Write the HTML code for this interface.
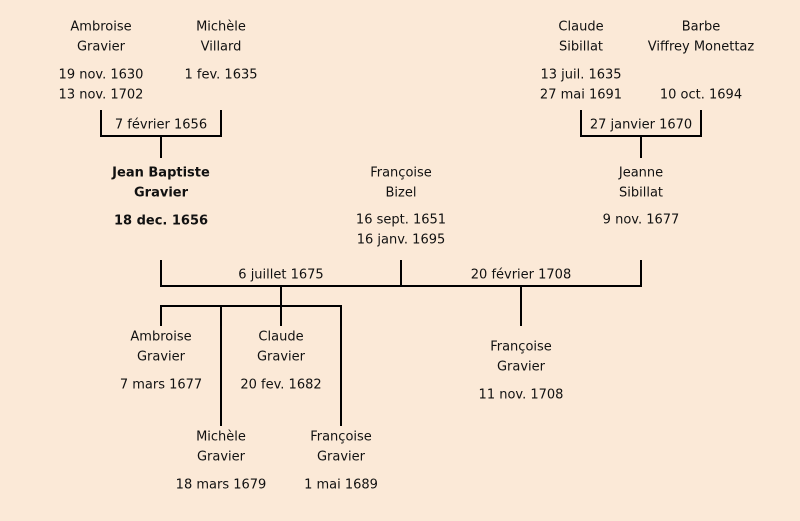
<!DOCTYPE html>
<html><head><meta charset="utf-8"><style>
body{margin:0;width:800px;height:521px;background:#fbe9d7;position:relative;overflow:hidden;font-family:"DejaVu Sans","Liberation Sans",sans-serif;font-size:13px;color:#111}
.t{position:absolute;transform:translate(-50%,-50%);white-space:nowrap;line-height:1}
.b{font-weight:bold}
svg{position:absolute;left:0;top:0}
</style></head><body>
<svg width="800" height="521"><g stroke="#000" stroke-width="2" fill="none">
<path d="M101 110V136H221V110M161 136V158"/>
<path d="M581 110V136H701V110M641 136V158"/>
<path d="M161 260V286H641V260M401 260V286"/>
<path d="M281 286V306M161 326V306H341V426M221 306V426M281 306V326"/>
<path d="M521 286V326"/>
</g></svg>
<div class="t" style="left:101px;top:27px">Ambroise</div>
<div class="t" style="left:101px;top:47px">Gravier</div>
<div class="t" style="left:101px;top:75px">19 nov. 1630</div>
<div class="t" style="left:101px;top:95px">13 nov. 1702</div>
<div class="t" style="left:221px;top:27px">Michèle</div>
<div class="t" style="left:221px;top:47px">Villard</div>
<div class="t" style="left:221px;top:75px">1 fev. 1635</div>
<div class="t" style="left:161px;top:125px">7 février 1656</div>
<div class="t" style="left:581px;top:27px">Claude</div>
<div class="t" style="left:581px;top:47px">Sibillat</div>
<div class="t" style="left:581px;top:75px">13 juil. 1635</div>
<div class="t" style="left:581px;top:95px">27 mai 1691</div>
<div class="t" style="left:701px;top:27px">Barbe</div>
<div class="t" style="left:701px;top:47px">Viffrey Monettaz</div>
<div class="t" style="left:701px;top:95px">10 oct. 1694</div>
<div class="t" style="left:641px;top:125px">27 janvier 1670</div>
<div class="t b" style="left:161px;top:173px">Jean Baptiste</div>
<div class="t b" style="left:161px;top:193px">Gravier</div>
<div class="t b" style="left:161px;top:221px">18 dec. 1656</div>
<div class="t" style="left:401px;top:173px">Françoise</div>
<div class="t" style="left:401px;top:193px">Bizel</div>
<div class="t" style="left:401px;top:220px">16 sept. 1651</div>
<div class="t" style="left:401px;top:240px">16 janv. 1695</div>
<div class="t" style="left:641px;top:173px">Jeanne</div>
<div class="t" style="left:641px;top:193px">Sibillat</div>
<div class="t" style="left:641px;top:220px">9 nov. 1677</div>
<div class="t" style="left:281px;top:275px">6 juillet 1675</div>
<div class="t" style="left:521px;top:275px">20 février 1708</div>
<div class="t" style="left:161px;top:337px">Ambroise</div>
<div class="t" style="left:161px;top:357px">Gravier</div>
<div class="t" style="left:161px;top:385px">7 mars 1677</div>
<div class="t" style="left:281px;top:337px">Claude</div>
<div class="t" style="left:281px;top:357px">Gravier</div>
<div class="t" style="left:281px;top:385px">20 fev. 1682</div>
<div class="t" style="left:221px;top:437px">Michèle</div>
<div class="t" style="left:221px;top:457px">Gravier</div>
<div class="t" style="left:221px;top:485px">18 mars 1679</div>
<div class="t" style="left:341px;top:437px">Françoise</div>
<div class="t" style="left:341px;top:457px">Gravier</div>
<div class="t" style="left:341px;top:485px">1 mai 1689</div>
<div class="t" style="left:521px;top:347px">Françoise</div>
<div class="t" style="left:521px;top:367px">Gravier</div>
<div class="t" style="left:521px;top:395px">11 nov. 1708</div>
</body></html>
